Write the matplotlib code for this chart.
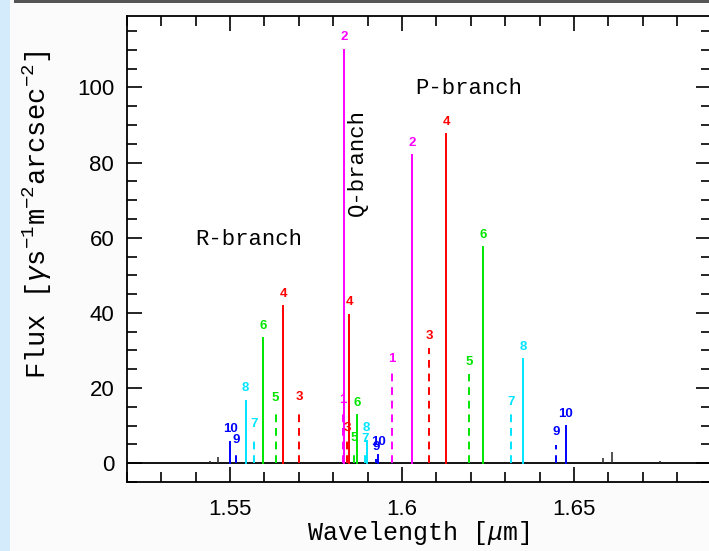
import matplotlib
matplotlib.use("Agg")
import matplotlib.pyplot as plt
from matplotlib.patches import Rectangle
from matplotlib.ticker import MultipleLocator

# H2 lines per branch: wavelength [um], flux, rotational level label
r_wave = [1.55003, 1.55177, 1.55459, 1.55701, 1.55962, 1.56331, 1.56544, 1.57017]
r_flux = [5.7, 2.8, 16.6, 7.1, 33.2, 14.0, 41.8, 14.4]
r_j = [10, 9, 8, 7, 6, 5, 4, 3]

q_wave = [1.58288, 1.58326, 1.58413, 1.58471, 1.58622, 1.58703, 1.58927, 1.58977, 1.59247, 1.59314]
q_flux = [13.5, 110.0, 6.0, 39.5, 3.5, 12.8, 3.2, 6.0, 1.0, 2.2]
q_j = [1, 2, 3, 4, 5, 6, 7, 8, 9, 10]

p_wave = [1.59721, 1.60302, 1.60797, 1.61282, 1.61951, 1.62349, 1.63172, 1.63529, 1.64471, 1.64762]
p_flux = [24.4, 82.0, 30.6, 87.5, 23.7, 57.5, 13.0, 27.7, 4.9, 9.9]
p_j = [1, 2, 3, 4, 5, 6, 7, 8, 9, 10]

# weak unidentified features
bg_wave = [1.5443, 1.5466, 1.65855, 1.66099, 1.67503]
bg_flux = [0.6, 1.6, 1.3, 3.0, 0.5]

level_colors = {1: "#ff00ff", 2: "#ff00ff", 3: "#ff0000", 4: "#ff0000",
                5: "#00e600", 6: "#00e600", 7: "#00e5ff", 8: "#00e5ff",
                9: "#0000ff", 10: "#0000ff"}

plt.rcParams["mathtext.fontset"] = "custom"
plt.rcParams["mathtext.rm"] = "Liberation Mono"
plt.rcParams["mathtext.it"] = "Liberation Mono:italic"

fig = plt.figure(figsize=(7.09, 5.51), dpi=100, facecolor="#fbfbfb")
fig.patches.append(Rectangle((0, 0), 10 / 709, 1, transform=fig.transFigure,
                             facecolor="#d4ebfb", edgecolor="none", zorder=0))
fig.patches.append(Rectangle((14 / 709, 548 / 551), 1, 3 / 551, transform=fig.transFigure,
                             facecolor="#555555", edgecolor="none", zorder=0))

ax = fig.add_axes([126.7 / 709, 69 / 551, 584.8 / 709, 466 / 551])
ax.set_facecolor("white")

ax.axhline(0, color="black", lw=1.3, zorder=1)
ax.vlines(bg_wave, 0, bg_flux, color="#333333", lw=1.2)

for wave, flux, levels in [(r_wave, r_flux, r_j), (q_wave, q_flux, q_j), (p_wave, p_flux, p_j)]:
    for w, f, j in zip(wave, flux, levels):
        c = level_colors[j]
        ls = (0, (4, 3)) if j % 2 else "-"
        ax.plot([w, w], [0, f], color=c, lw=1.4, ls=ls, zorder=2)
        ax.annotate(str(j), (w, f), xytext=(0, 9), textcoords="offset points",
                    ha="center", va="center", color=c, fontsize=9.5,
                    fontweight="bold", family="Liberation Sans")

ax.set_xlim(1.52, 1.69)
ax.set_ylim(-5, 119)

ax.xaxis.set_major_locator(MultipleLocator(0.05))
ax.xaxis.set_minor_locator(MultipleLocator(0.01))
ax.yaxis.set_major_locator(MultipleLocator(20))
ax.yaxis.set_minor_locator(MultipleLocator(5))
ax.set_xticks([1.55, 1.6, 1.65])
ax.set_xticklabels(["1.55", "1.6", "1.65"])

ax.tick_params(which="both", direction="in", top=True, right=True, width=1.2, colors="black")
ax.tick_params(which="major", length=11)
ax.tick_params(which="minor", length=7)
ax.tick_params(axis="x", pad=12, labelsize=16)
ax.tick_params(axis="y", pad=9, labelsize=16)
for lab in ax.get_xticklabels() + ax.get_yticklabels():
    lab.set_family("Liberation Sans")
for sp in ax.spines.values():
    sp.set_linewidth(1.3)

ax.text(1.55556, 59.4, "R-branch", ha="center", va="center", fontsize=16, family="Liberation Mono")
ax.text(1.6195, 99.8, "P-branch", ha="center", va="center", fontsize=16, family="Liberation Mono")
ax.text(1.5871, 80, "Q-branch", ha="center", va="center", rotation=90, fontsize=16,
        family="Liberation Mono")

fig.text(418 / 709, 1 - 533 / 551, r"Wavelength [$\mu$m]", ha="center", va="center",
         fontsize=18, family="Liberation Mono")
fig.text(37 / 709, 1 - 215 / 551, r"Flux [$\gamma$s$^{-1}$m$^{-2}$arcsec$^{-2}$]",
         ha="center", va="center", rotation=90, fontsize=19.5, family="Liberation Mono")

fig.savefig("out.png", dpi=100, facecolor=fig.get_facecolor())
